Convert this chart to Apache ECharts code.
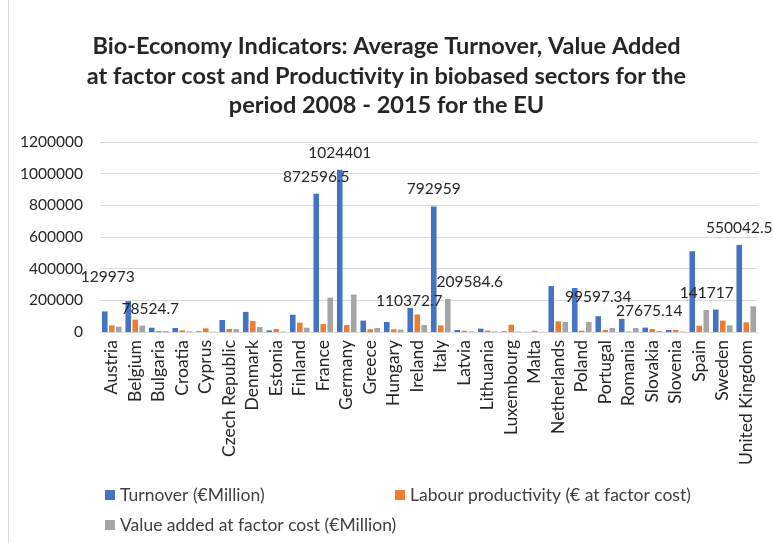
<!DOCTYPE html>
<html>
<head>
<meta charset="utf-8">
<script src="https://cdn.jsdelivr.net/npm/echarts@6/dist/echarts.min.js"></script>
<style>html,body{margin:0;padding:0;background:#fff}#c{width:773px;height:543px}</style>
</head>
<body>
<div id="c"></div>
<script>
const categories = ["Austria","Belgium","Bulgaria","Croatia","Cyprus","Czech Republic","Denmark","Estonia","Finland","France","Germany","Greece","Hungary","Ireland","Italy","Latvia","Lithuania","Luxembourg","Malta","Netherlands","Poland","Portugal","Romania","Slovakia","Slovenia","Spain","Sweden","United Kingdom"];
const turnover = [129973,195000,27000,25000,4000,76000,127000,10500,109000,872596.5,1024401,72000,63000,152000,792959,13000,21000,4000,1000,290000,278000,99597.34,83000,27675.14,13000,510000,141717,550042.5];
const labourProductivity = [42000,78524.7,6000,10000,23000,19000,69000,19000,59000,50000,44000,17000,17000,110372.7,42000,8000,9000,46000,8000,67000,8000,13000,3000,19000,13000,40000,72000,61000];
const valueAdded = [34000,40000,6000,4000,2000,19000,31000,3000,27000,217000,236000,25000,15000,44000,209584.6,4000,4000,3000,1000,63000,63000,25000,25000,6000,3000,139000,42000,162000];
const yTicks = [0,200000,400000,600000,800000,1000000,1200000];

// which bars carry a data label, and how far each label is nudged
const turnoverLabels = {0:[3,-17],9:[0,0],10:[0,0],14:[0,0],21:[0,-2],23:[4,0],26:[-9,0],27:[0,0]};
const labourLabels = {1:[15,6],13:[-8,3]};
const valueLabels = {14:[22,0]};

const FONT = 'Lato';
function withLabels(vals, map) {
  return vals.map((v, i) => map[i] ? {value: v, label: {show: true, offset: map[i]}} : v);
}
const labelBase = {show:false, position:'top', distance:9, color:'#262626', fontSize:15.5, fontFamily:FONT, formatter: p => String(p.value)};
const legendText = {fontFamily:FONT, fontSize:17.5, color:'#404040'};
const chart = echarts.init(document.getElementById('c'), null, {renderer:'canvas'});
chart.setOption({
  animation:false,
  color:['#4472C4','#ED7D31','#A5A5A5'],
  title:{
    text:'Bio-Economy Indicators: Average Turnover, Value Added\nat factor cost and Productivity in biobased sectors for the\nperiod 2008 - 2015 for the EU',
    left:'center', top:27,
    textStyle:{fontFamily:FONT, fontWeight:'bold', fontSize:23.5, lineHeight:29.5, color:'#262626', align:'center'}
  },
  graphic:[{type:'line', shape:{x1:8.5,y1:0,x2:8.5,y2:543}, style:{stroke:'#d9d9d9', lineWidth:1}}],
  grid:{left:100, right:15, top:142, bottom:211, containLabel:false},
  legend:[
    {data:['Turnover (€Million)'], left:100, top:481, itemWidth:10, itemHeight:10, icon:'rect', textStyle:legendText},
    {data:['Labour productivity (€ at factor cost)'], left:390, top:481, itemWidth:10, itemHeight:10, icon:'rect', textStyle:legendText},
    {data:['Value added at factor cost (€Million)'], left:100, top:511, itemWidth:10, itemHeight:10, icon:'rect', textStyle:legendText}
  ],
  xAxis:{
    type:'category', data:categories,
    axisTick:{show:false},
    axisLine:{lineStyle:{color:'#d9d9d9'}},
    axisLabel:{rotate:90, interval:0, fontFamily:FONT, fontSize:17.5, color:'#262626', margin:8}
  },
  yAxis:{
    type:'value', min:yTicks[0], max:yTicks[yTicks.length-1], interval:200000,
    axisLine:{show:false}, axisTick:{show:false},
    splitLine:{lineStyle:{color:'#d9d9d9'}},
    axisLabel:{fontFamily:FONT, fontSize:15.5, color:'#262626', margin:17, formatter: v => String(v)}
  },
  series:[
    {name:'Turnover (€Million)', type:'bar', data:withLabels(turnover, turnoverLabels), barWidth:5.6, barGap:'25%', label:labelBase},
    {name:'Labour productivity (€ at factor cost)', type:'bar', data:withLabels(labourProductivity, labourLabels), barWidth:5.6, barGap:'25%', label:labelBase},
    {name:'Value added at factor cost (€Million)', type:'bar', data:withLabels(valueAdded, valueLabels), barWidth:5.6, barGap:'25%', label:labelBase}
  ]
});
</script>
</body>
</html>
